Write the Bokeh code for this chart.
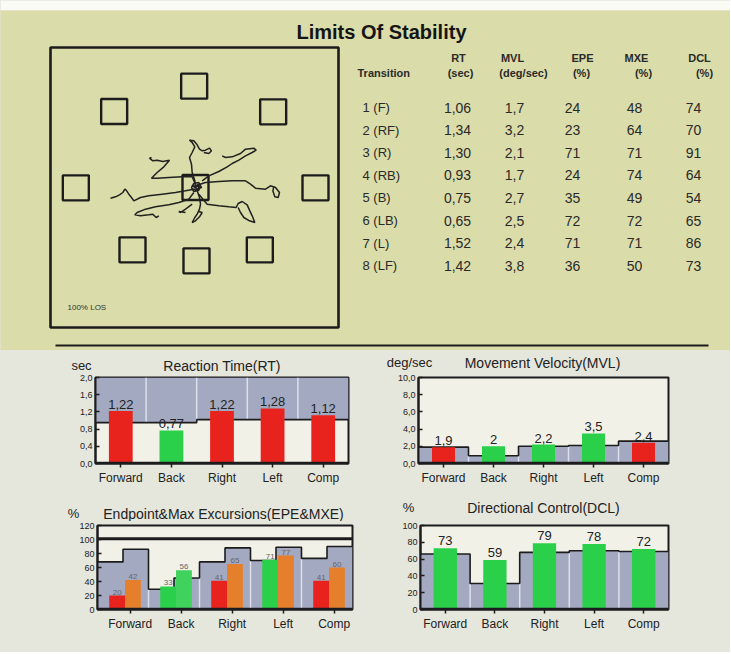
from bokeh.plotting import figure
from bokeh.models import Range1d, FixedTicker, Span, CustomJSTickFormatter
from bokeh.layouts import column, row
from bokeh.embed import file_html
from bokeh.resources import INLINE
from bokeh.core.properties import value

FONT = "Liberation Sans"
TOP_BG = "#dadca9"
BOT_BG = "#e5e6dc"
PLOT_BG = "#f1f1e8"
BAND = "#a3a9c0"
RED = "#e8231e"
GREEN = "#2ad04a"
GREEN2 = "#3fd25c"
ORANGE = "#e57f2c"
INK = "#1c1c1c"
W = 730

# ---------------- table data ----------------
transitions = ["1 (F)", "2 (RF)", "3 (R)", "4 (RB)", "5 (B)", "6 (LB)", "7 (L)", "8 (LF)"]
rt_tab = [1.06, 1.34, 1.30, 0.93, 0.75, 0.65, 1.52, 1.42]
mvl_tab = [1.7, 3.2, 2.1, 1.7, 2.7, 2.5, 2.4, 3.8]
epe_tab = [24, 23, 71, 24, 35, 72, 71, 36]
mxe_tab = [48, 64, 71, 74, 49, 72, 71, 50]
dcl_tab = [74, 70, 91, 64, 54, 65, 86, 73]
header_top = ["RT", "MVL", "EPE", "MXE", "DCL"]
header_bot = ["(sec)", "(deg/sec)", "(%)", "(%)", "(%)"]

# ---------------- bar chart data ----------------
directions = ["Forward", "Back", "Right", "Left", "Comp"]
rt_vals = [1.22, 0.77, 1.22, 1.28, 1.12]
rt_norm = [0.95, 0.95, 1.02, 1.02, 1.02]
mvl_vals = [1.9, 2.0, 2.2, 3.5, 2.4]
mvl_norm = [1.9, 0.9, 2.0, 2.1, 2.6]
epe_vals = [20, 33, 41, 71, 41]
mxe_vals = [42, 56, 65, 77, 60]
epe_norm = [68, 29, 68, 70, 73]
mxe_norm = [86, 45, 88, 89, 90]
dcl_vals = [73, 59, 79, 78, 72]
dcl_norm = [66, 31, 68, 70, 69]

# ---------------- COG trace (offsets from centre, trace units) ----------------
target_x = [-4, 233, 360, 193, 3, -189, -359, -244, 0]
target_y = [304, 227, -1, -187, -220, -187, -1, 228, 0]

trace_f_x = [0, -2, -10, -12, -18, -10, -2, -10, -18, -5, 5, 12, 20, 30, 42, 48, 40, 25]
trace_f_y = [0, 20, 45, 70, 90, 105, 122, 135, 142, 140, 128, 115, 110, 112, 118, 110, 102, 105]
trace_rf_x = [20, 40, 70, 95, 110, 130, 150, 170, 182, 175, 150, 135, 110, 90, 80]
trace_rf_y = [20, 35, 48, 62, 72, 82, 95, 105, 112, 118, 115, 102, 92, 90, 95]
trace_r_x = [0, 30, 70, 110, 150, 165, 180, 210, 225, 240, 252, 248, 238, 232, 235]
trace_r_y = [5, 15, 18, 20, 20, 10, -2, -5, 5, 0, -15, -30, -28, -10, 2]
trace_rb_x = [10, 35, 70, 100, 122, 128, 140, 155, 162, 170, 178, 162, 145, 135, 128]
trace_rb_y = [-20, -50, -55, -58, -60, -48, -42, -52, -68, -85, -105, -100, -90, -75, -60]
trace_b_x = [5, 12, 15, 12, 5, -2, -10, 0, 12, 20, 10]
trace_b_y = [-10, -30, -50, -65, -80, -90, -105, -100, -88, -75, -72]
trace_lb_x = [-5, -20, -50, -80, -120, -150, -175, -182, -165, -140, -128, -118, -110]
trace_lb_y = [-15, -35, -45, -52, -58, -65, -75, -82, -85, -82, -80, -90, -85]
trace_lb2_x = [-10, -30, -45, -50, -30]
trace_lb2_y = [-50, -65, -75, -72, -75]
trace_l_x = [-5, -30, -60, -100, -140, -165, -185, -192, -200, -208, -212, -218, -228, -240, -255]
trace_l_y = [-5, -10, -15, -20, -25, -30, -40, -30, -20, -8, -5, -15, -22, -28, -32]
trace_lf_x = [0, -10, -40, -80, -115, -132, -115, -95, -78, -98, -115, -128, -138, -132]
trace_lf_y = [10, 32, 32, 30, 28, 28, 45, 62, 82, 78, 82, 80, 88, 90]
trace_c_x = [0, 8, 15, 10, -5, -12, -5, 10, 18, 5, -8, 3, 12, 6, -6]
trace_c_y = [0, 10, 5, -8, -12, 0, 12, 15, 0, -5, 5, 2, 8, -10, -4]

traces_x = [trace_f_x, trace_rf_x, trace_r_x, trace_rb_x, trace_b_x, trace_lb_x,
            trace_lb2_x, trace_l_x, trace_lf_x, trace_c_x]
traces_y = [trace_f_y, trace_rf_y, trace_r_y, trace_rb_y, trace_b_y, trace_lb_y,
            trace_lb2_y, trace_l_y, trace_lf_y, trace_c_y]


def comma(v, nd):
    return f"{v:.{nd}f}".replace(".", ",")


def blank(height, y0, y1, bg, top_pad=0, border=None):
    p = figure(width=W, height=height, x_range=Range1d(0, W),
               y_range=Range1d(y1, y0 + top_pad),
               output_backend="svg", toolbar_location=None, title=None, min_border=0,
               min_border_top=top_pad,
               x_axis_location=None, y_axis_location=None)
    p.outline_line_color = None
    p.background_fill_color = bg
    p.border_fill_color = border or bg
    p.grid.visible = False
    return p


def txt(p, x, y, t, size, align="center", bold=False, color="#222222"):
    p.text(x=x, y=y, text=t, text_font=value(FONT), text_font_size=value(size),
           text_font_style="bold" if bold else "normal", text_color=color,
           text_align=align, text_baseline="middle")


# ================= top panel =================
top = blank(350, 0, 350, TOP_BG, top_pad=10, border="#fbfbf6")
txt(top, [381], [31], ["Limits Of Stability"], "20px", bold=True, color="#151515")

CX, CY, K = 195.0, 187.0, 1.0 / 3.0
top.rect(x=[194], y=[187], width=288, height=280, fill_color=None,
         line_color=INK, line_width=2.6)
tx = [CX + v * K for v in target_x]
ty = [CY - v * K for v in target_y]
top.rect(x=tx, y=ty, width=26, height=25, width_units="screen", height_units="screen",
         fill_color=None, line_color=INK, line_width=2.4)
top.multi_line(xs=[[CX + v * K for v in xs] for xs in traces_x],
               ys=[[CY - v * K for v in ys] for ys in traces_y],
               line_color="#222222", line_width=1.5)
txt(top, [67], [307], ["100% LOS"], "8px", align="left", color="#333333")

col1_x = [458, 512, 582, 636, 699]
col2_x = [460, 523, 581, 643, 704]
txt(top, col1_x, [57] * 5, header_top, "11px", bold=True, color="#2a2a2a")
txt(top, col2_x, [72] * 5, header_bot, "11px", bold=True, color="#2a2a2a")
txt(top, [357], [72], ["Transition"], "11px", align="left", bold=True, color="#2a2a2a")

row_y = [107 + i * 22.6 for i in range(len(transitions))]
txt(top, [362] * 8, row_y, transitions, "13px", align="left", color="#2a2a2a")
cols = [
    (457, [comma(v, 2) for v in rt_tab]),
    (514, [comma(v, 1) for v in mvl_tab]),
    (572, [str(v) for v in epe_tab]),
    (634, [str(v) for v in mxe_tab]),
    (693, [str(v) for v in dcl_tab]),
]
for cx, labels in cols:
    txt(top, [cx] * 8, row_y, labels, "14px", color="#2a2a2a")

top.segment(x0=[55], y0=[345], x1=[708], y1=[345], line_color=INK, line_width=2)

# ================= chart headers =================
head1 = blank(24, 350, 374, BOT_BG)
txt(head1, [81], [365], ["sec"], "13px")
txt(head1, [221.5], [365], ["Reaction Time(RT)"], "14px")
txt(head1, [409], [362], ["deg/sec"], "13px")
txt(head1, [542], [362], ["Movement Velocity(MVL)"], "14px")

head2 = blank(24, 497, 521, BOT_BG)
txt(head2, [73], [513], ["%"], "13px")
txt(head2, [223], [513], ["Endpoint&Max Excursions(EPE&MXE)"], "14px")
txt(head2, [408], [507], ["%"], "13px")
txt(head2, [543], [507], ["Directional Control(DCL)"], "14px")


# ================= bar charts =================
def make_chart(width, height, lb, rb, tb, bb, y_end, y_step, y_dec, tick_pos):
    p = figure(width=width, height=height, x_range=Range1d(0, 5), y_range=Range1d(0, y_end),
               output_backend="svg", toolbar_location=None, title=None,
               min_border_left=lb, min_border_right=rb, min_border_top=tb,
               min_border_bottom=bb)
    p.background_fill_color = PLOT_BG
    p.border_fill_color = BOT_BG
    p.outline_line_color = INK
    p.outline_line_width = 2
    p.grid.visible = False
    n = int(round(y_end / y_step))
    p.yaxis.ticker = FixedTicker(ticks=[round(i * y_step, 6) for i in range(n + 1)])
    p.yaxis.formatter = CustomJSTickFormatter(
        args=dict(d=y_dec),
        code="return d > 0 ? tick.toFixed(d).replace('.', ',') : tick.toFixed(0);")
    p.xaxis.ticker = FixedTicker(ticks=[i + tick_pos for i in range(5)])
    p.xaxis.formatter = CustomJSTickFormatter(
        args=dict(names=directions), code="return names[Math.floor(tick)];")
    for ax in (p.xaxis[0], p.yaxis[0]):
        ax.axis_line_color = INK
        ax.axis_line_width = 2
        ax.major_tick_line_color = INK
        ax.major_tick_line_width = 1.5
        ax.minor_tick_line_color = None
        ax.major_label_text_font = FONT
        ax.major_label_text_color = "#222222"
    p.yaxis.major_tick_in = 4
    p.yaxis.major_tick_out = 0
    p.yaxis.major_label_standoff = 3
    p.yaxis.major_label_text_font_size = "9px"
    p.xaxis.major_tick_in = 0
    p.xaxis.major_tick_out = 4
    p.xaxis.major_label_standoff = 3
    p.xaxis.major_label_text_font_size = "12px"
    return p


def add_band(p, norms, seg_w, above, y_top):
    xs, ys = [], []
    for i, nv in enumerate(norms):
        xs += [i * seg_w, (i + 1) * seg_w]
        ys += [nv, nv]
    if above:
        p.varea(x=xs, y1=ys, y2=[y_top] * len(xs), fill_color=BAND)
    else:
        p.varea(x=xs, y1=[0] * len(xs), y2=ys, fill_color=BAND)
    per = int(round(1 / seg_w))
    for b in range(1, 5):
        left = norms[b * per - 1]
        right = norms[b * per]
        if above:
            p.segment(x0=[b], y0=[max(left, right)], x1=[b], y1=[y_top],
                      line_color="#dde0ea", line_width=1.5)
        else:
            p.segment(x0=[b], y0=[0], x1=[b], y1=[min(left, right)],
                      line_color="#dde0ea", line_width=1.5)
    p.line(xs, ys, line_color=INK, line_width=1.6)


def bar_labels(p, x, y, labels, size, color, off):
    p.text(x=x, y=y, text=labels, text_font=value(FONT), text_font_size=value(size),
           text_color=color, text_align="center", text_baseline="bottom", y_offset=off)


centers = [i + 0.5 for i in range(5)]

# Reaction time
rt = make_chart(372, 123, 95, 24, 3, 29, 2.0, 0.4, 1, 0.5)
add_band(rt, rt_norm, 1.0, True, 2.0)
rt.vbar(x=centers, top=rt_vals, width=0.47, line_color=None,
        fill_color=[RED if v > n else GREEN for v, n in zip(rt_vals, rt_norm)])
bar_labels(rt, centers, rt_vals, [comma(v, 2) for v in rt_vals], "13px", "#222222", -2)
rt.add_layout(Span(location=0, dimension="width", line_color=INK, line_width=3.5))

# Movement velocity
mvl = make_chart(W - 372, 123, 46, W - 668, 2, 34, 10.0, 2.0, 1, 0.5)
add_band(mvl, mvl_norm, 1.0, False, 10.0)
mvl.vbar(x=centers, top=mvl_vals, width=0.46, line_color=None,
         fill_color=[GREEN if v > n else RED for v, n in zip(mvl_vals, mvl_norm)])
bar_labels(mvl, centers, mvl_vals, [f"{v:g}".replace(".", ",") for v in mvl_vals],
           "13px", "#222222", -2)
mvl.add_layout(Span(location=0, dimension="width", line_color=INK, line_width=3.5))

# Endpoint & max excursions
epe = make_chart(372, 131, 97, 20, 4, 37, 120, 20, 0, 0.64)
half_norms = []
for a, b in zip(epe_norm, mxe_norm):
    half_norms += [a, b]
add_band(epe, half_norms, 0.5, False, 120)
epe.add_layout(Span(location=101, dimension="width", line_color=INK, line_width=3))
x_epe = [i + 0.385 for i in range(5)]
x_mxe = [i + 0.695 for i in range(5)]
epe.vbar(x=x_epe, top=epe_vals, width=0.31, line_color=None,
         fill_color=[GREEN if v > n else RED for v, n in zip(epe_vals, epe_norm)])
epe.vbar(x=x_mxe, top=mxe_vals, width=0.31, line_color=None,
         fill_color=[GREEN2 if v > n else ORANGE for v, n in zip(mxe_vals, mxe_norm)])
bar_labels(epe, x_epe + x_mxe, epe_vals + mxe_vals, [str(v) for v in epe_vals + mxe_vals],
           "8px", "#666666", -1)
epe.add_layout(Span(location=0, dimension="width", line_color=INK, line_width=3.5))

# Directional control
dcl = make_chart(W - 372, 131, 48, W - 668, 2, 43, 100, 20, 0, 0.5)
add_band(dcl, dcl_norm, 1.0, False, 100)
dcl.vbar(x=centers, top=dcl_vals, width=0.47, line_color=None,
         fill_color=[GREEN if v > n else RED for v, n in zip(dcl_vals, dcl_norm)])
bar_labels(dcl, centers, dcl_vals, [str(v) for v in dcl_vals], "13px", "#222222", -3)
dcl.add_layout(Span(location=0, dimension="width", line_color=INK, line_width=3.5))

bg = {"background-color": BOT_BG}
layout = column(top, head1, row(rt, mvl, styles=bg), head2, row(epe, dcl, styles=bg),
                styles=bg)

with open("out.html", "w") as f:
    f.write(file_html(layout, INLINE))
